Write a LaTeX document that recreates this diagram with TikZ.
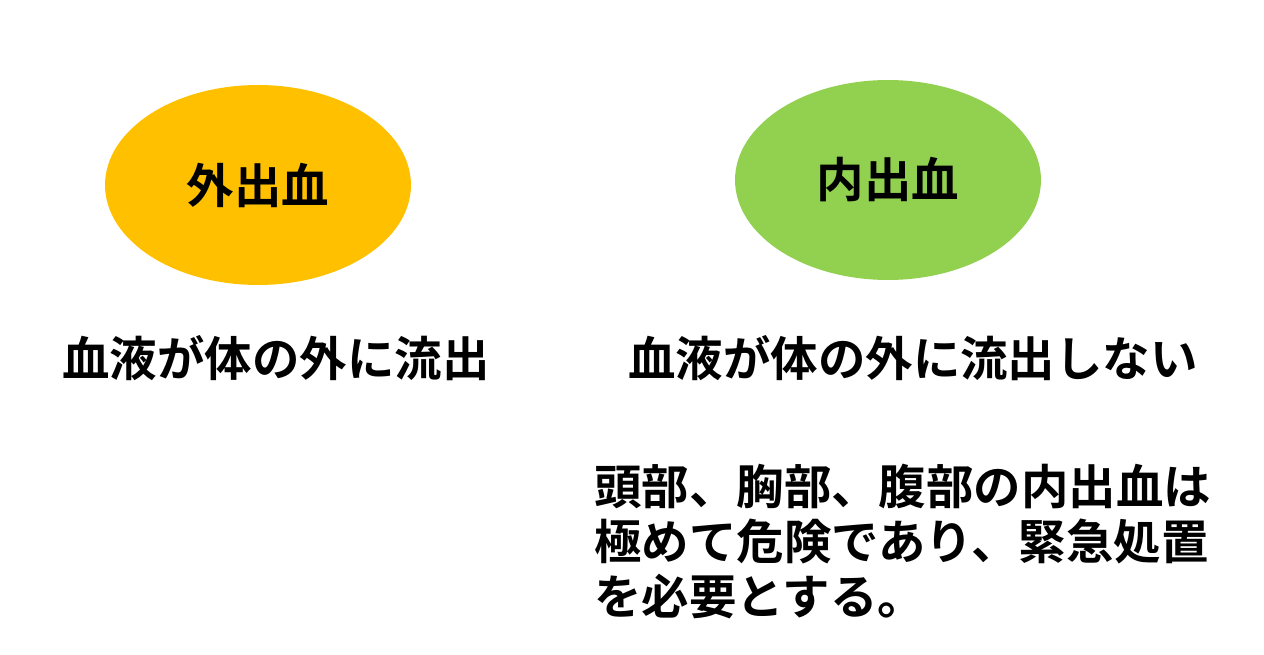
\documentclass[tikz,border=0pt]{standalone}
\usepackage{fontspec}
\setmainfont{Noto Sans CJK JP}[BoldFont={Noto Sans CJK JP Bold}]
\definecolor{gaiorange}{RGB}{255,192,0}
\definecolor{naigreen}{RGB}{146,208,80}
\usetikzlibrary{shapes.geometric}
\tikzset{
    bubble/.style={ellipse, minimum width=6.12cm, minimum height=4cm, inner sep=0pt},
    jtext/.style={font=\fontsize{27}{31.3}\selectfont\bfseries, inner sep=0pt}
}

\begin{document}
\begin{tikzpicture}[x=0.02cm,y=-0.02cm]
        \useasboundingbox (0,0) rectangle (1264,655);
        % the two kinds of bleeding
        \node[bubble, fill=gaiorange] (gai) at (258,185) {};
        \node[bubble, fill=naigreen] (nai) at (888,180) {};
        \node[jtext] (gailabel) at (gai.center) {外出血};
        \node[jtext] (nailabel) at (nai.center) {内出血};
        
        % what each one means
        \node[jtext] (gaidesc) at (276,358) {血液が体の外に流出};
        \node[jtext] (naidesc) at (913,358) {血液が体の外に流出しない};
        
        % note on internal bleeding
        \node[jtext, anchor=west, align=left] (note) at (594,542) {頭部、胸部、腹部の内出血は\\極めて危険であり、緊急処置\\を必要とする。};
\end{tikzpicture}
\end{document}
